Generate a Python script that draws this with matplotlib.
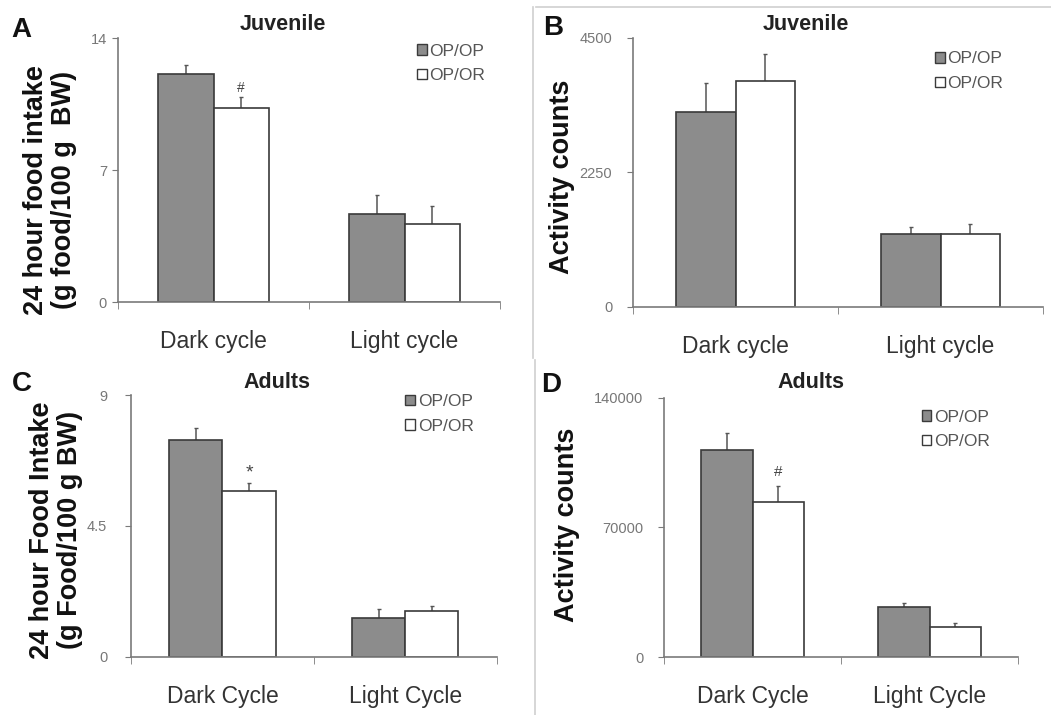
import matplotlib
matplotlib.use("Agg")
import matplotlib.pyplot as plt
from matplotlib.patches import Patch
from matplotlib.lines import Line2D

plt.rcParams['font.family'] = ['Liberation Sans', 'DejaVu Sans']

groups = ["OP/OP", "OP/OR"]

# juvenile food intake (g food/100 g BW)
juv_food_cats = ["Dark cycle", "Light cycle"]
juv_food_opop = [12.1, 4.65]
juv_food_opor = [10.3, 4.15]
juv_food_opop_err = [0.45, 1.05]
juv_food_opor_err = [0.55, 0.95]

# juvenile activity
juv_act_cats = ["Dark cycle", "Light cycle"]
juv_act_opop = [3250, 1210]
juv_act_opor = [3775, 1215]
juv_act_opop_err = [495, 125]
juv_act_opor_err = [445, 165]

# adult food intake
ad_food_cats = ["Dark Cycle", "Light Cycle"]
ad_food_opop = [7.45, 1.32]
ad_food_opor = [5.70, 1.58]
ad_food_opop_err = [0.43, 0.31]
ad_food_opor_err = [0.26, 0.16]

# adult activity
ad_act_cats = ["Dark Cycle", "Light Cycle"]
ad_act_opop = [111800, 27000]
ad_act_opor = [83900, 16500]
ad_act_opop_err = [9000, 2500]
ad_act_opor_err = [8500, 1800]

dark_fill = "#8c8c8c"
edge = "#3a3a3a"
axis_grey = "#7a7a7a"
tick_grey = "#777777"

fig = plt.figure(figsize=(10.51, 7.15), dpi=100)


def panel(rect, cats, v1, v2, e1, e2, ymax, yticks, title, title_xy,
          ylabel, ylabel_xy, letter, letter_xy, leg_anchor, ypad, mark=None):
    ax = fig.add_axes(rect)
    x = [0, 1]
    w = 0.29
    ax.bar([i - w / 2 for i in x], v1, w, color=dark_fill, edgecolor=edge,
           linewidth=1.2, zorder=2)
    ax.bar([i + w / 2 for i in x], v2, w, color="white", edgecolor=edge,
           linewidth=1.2, zorder=2)
    ax.errorbar([i - w / 2 for i in x], v1, yerr=[[0, 0], e1], fmt="none",
                ecolor="#555555", elinewidth=1.1, capsize=1.5, zorder=1)
    ax.errorbar([i + w / 2 for i in x], v2, yerr=[[0, 0], e2], fmt="none",
                ecolor="#555555", elinewidth=1.1, capsize=1.5, zorder=1)
    if mark is not None:
        sym, idx, off, size = mark
        ax.text(idx + w / 2, v2[idx] + e2[idx] + off, sym, ha="center",
                va="bottom", fontsize=size, color="#444444")

    ax.set_xlim(-0.5, 1.5)
    ax.set_ylim(0, ymax)
    ax.set_yticks(yticks)
    ax.set_yticklabels([str(t) for t in yticks], fontsize=10.5,
                       color=tick_grey)
    ax.set_xticks(x)
    ax.set_xticklabels(cats, fontsize=16.5, color="#333333")
    ax.set_xticks([-0.5, 0.5, 1.5], minor=True)
    ax.tick_params(axis="x", which="major", length=0, pad=20)
    ax.tick_params(axis="x", which="minor", length=5, direction="out",
                   color=axis_grey)
    ax.tick_params(axis="y", length=4, color=axis_grey, pad=ypad)
    for s in ["top", "right"]:
        ax.spines[s].set_visible(False)
    for s in ["left", "bottom"]:
        ax.spines[s].set_color(axis_grey)
        ax.spines[s].set_linewidth(1.2)

    fig.text(title_xy[0], title_xy[1], title, fontsize=15.5,
             fontweight="bold", color="#222222", ha="center", va="center")
    fig.text(ylabel_xy[0], ylabel_xy[1], ylabel, rotation=90,
             ha="center", va="center", fontsize=19.5,
             fontweight="bold", color="#111111", linespacing=1.1)
    fig.text(letter_xy[0], letter_xy[1], letter, fontsize=20,
             fontweight="bold", color="#111111", ha="center", va="center")

    handles = [Patch(facecolor=dark_fill, edgecolor=edge, label=groups[0]),
               Patch(facecolor="white", edgecolor=edge, label=groups[1])]
    ax.legend(handles=handles, loc="upper right", bbox_to_anchor=leg_anchor,
              frameon=False, fontsize=12.5, handlelength=0.55,
              handleheight=0.55, handletextpad=0.15, labelspacing=0.55,
              labelcolor="#555555", borderaxespad=0)
    return ax


W, H = 1051.0, 715.0

panel([0.1123, 0.5776, 0.3635, 0.3692], juv_food_cats, juv_food_opop,
      juv_food_opor, juv_food_opop_err, juv_food_opor_err, 14, [0, 7, 14],
      "Juvenile", (283 / W, 1 - 25 / H),
      "24 hour food intake\n(g food/100 g  BW)", (50 / W, 1 - 190 / H),
      "A", (21 / W, 1 - 30 / H), (0.98, 1.005), 4,
      mark=("#", 0, 0.15, 10))

panel([0.6023, 0.5710, 0.3901, 0.3762], juv_act_cats, juv_act_opop,
      juv_act_opor, juv_act_opop_err, juv_act_opor_err, 4500,
      [0, 2250, 4500], "Juvenile", (806 / W, 1 - 25 / H),
      "Activity counts", (562 / W, 1 - 177 / H),
      "B", (553 / W, 1 - 28 / H), (0.92, 0.975), 11)

panel([0.1246, 0.0815, 0.3482, 0.3660], ad_food_cats, ad_food_opop,
      ad_food_opor, ad_food_opop_err, ad_food_opor_err, 9, [0, 4.5, 9],
      "Adults", (277 / W, 1 - 382 / H),
      "24 hour Food Intake\n(g Food/100 g BW)", (56 / W, 1 - 530 / H),
      "C", (22 / W, 1 - 384 / H), (0.955, 1.03), 13,
      mark=("*", 0, 0.08, 14))

panel([0.6318, 0.0807, 0.3368, 0.3631], ad_act_cats, ad_act_opop,
      ad_act_opor, ad_act_opop_err, ad_act_opor_err, 140000,
      [0, 70000, 140000], "Adults", (811 / W, 1 - 382 / H),
      "Activity counts", (567 / W, 1 - 525 / H),
      "D", (551 / W, 1 - 385 / H), (0.94, 0.98), 11,
      mark=("#", 0, 3500, 11))

# thin frame lines around the right-hand panels
frame = "#cfcfcf"
fig.add_artist(Line2D([0.510, 1.0], [0.990, 0.990], color=frame, lw=1.2))
fig.add_artist(Line2D([0.507, 0.507], [0.990, 0.500], color=frame, lw=1.2))
fig.add_artist(Line2D([0.509, 0.509], [0.497, 0.0], color=frame, lw=1.2))

fig.savefig("out.png", dpi=100)
